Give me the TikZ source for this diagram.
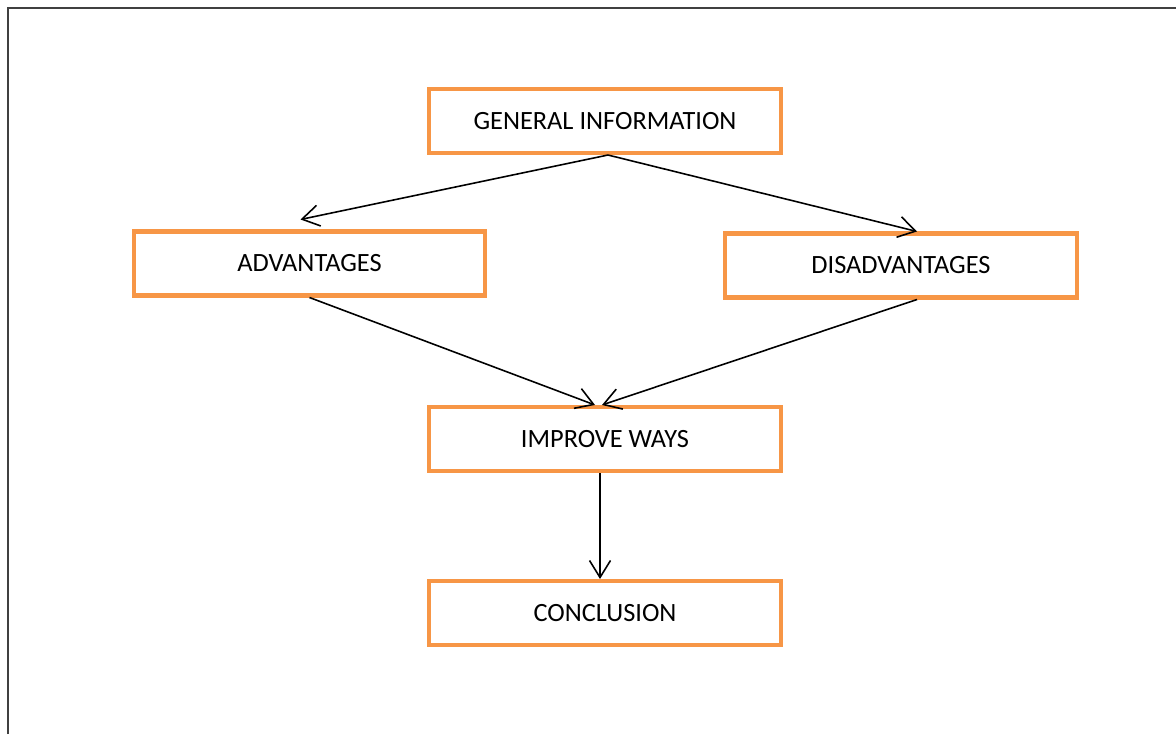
\documentclass[tikz,border=0pt]{standalone}
\usepackage{fontspec}
\setmainfont{Carlito}
\usepackage{tikz}
\usetikzlibrary{arrows.meta}

\definecolor{boxorange}{HTML}{F79646}
\definecolor{framegray}{HTML}{404040}

\tikzset{
    box/.style={draw=boxorange, line width=2.3pt, minimum width=7.04cm, minimum height=1.28cm,
        font=\fontsize{15}{18}\selectfont},
    arr/.style={line width=0.9pt, -{Straight Barb[length=0.34cm, width=0.42cm]}}
}

\begin{document}
\begin{tikzpicture}[x=0.02cm, y=-0.02cm]
        \useasboundingbox (0, 0) rectangle (1176, 734);
        \draw[framegray, line width=1.2pt] (8, 734) -- (8, 8) -- (1176, 8);

        % Draw boxes
        \node[box] (gen) at (605, 121) {GENERAL INFORMATION};
        \node[box] (adv) at (309.5, 263.5) {ADVANTAGES};
        \node[box] (dis) at (901, 265.5) {DISADVANTAGES};
        \node[box] (imp) at (605, 439) {IMPROVE WAYS};
        \node[box] (con) at (605, 613) {CONCLUSION};

        % Draw arrows
        \draw[arr] ([xshift=0.06cm]gen.south) -- ([xshift=-0.18cm, yshift=0.2cm]adv.north);
        \draw[arr] ([xshift=0.06cm]gen.south) -- ([xshift=0.32cm]dis.north);

        \draw[arr] (adv.south) -- ([xshift=-0.2cm]imp.north);
        \draw[arr] ([xshift=0.32cm]dis.south) -- ([xshift=-0.06cm]imp.north);

        \draw[arr] ([xshift=-0.1cm]imp.south) -- ([xshift=-0.1cm]con.north);
    \end{tikzpicture}
\end{document}
